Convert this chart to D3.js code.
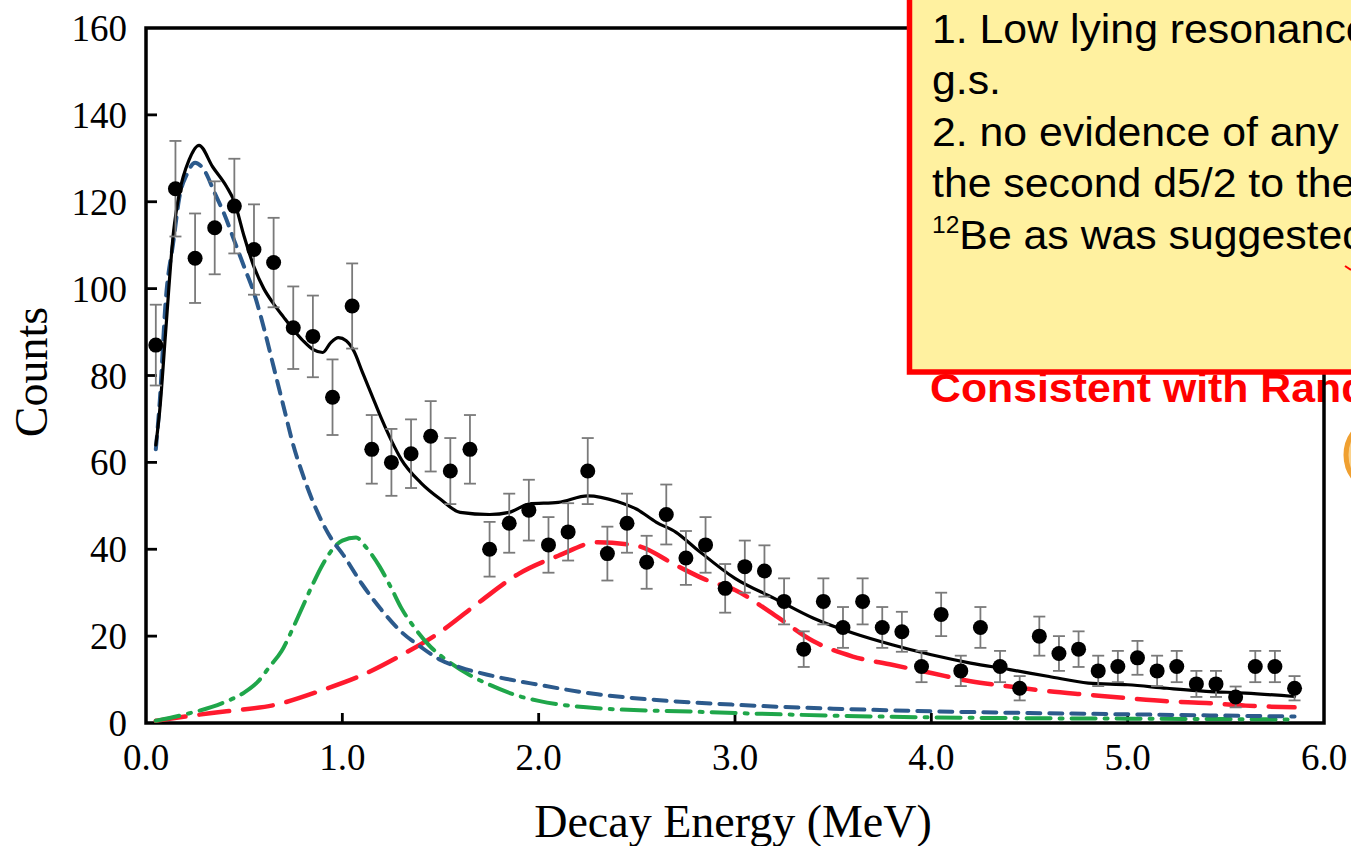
<!DOCTYPE html>
<html>
<head>
<meta charset="utf-8">
<script src="https://cdn.jsdelivr.net/npm/d3@7"></script>
<style>
  body { margin: 0; background: #fff; }
  svg { display: block; }
</style>
</head>
<body>
<div id="container"></div>
<script>
/* CONSTANTS AND GLOBALS */
const width = 1351,
  height = 846,
  margin = { top: 28, bottom: 123, left: 146, right: 27 };

/* DATA */
// bin centres (MeV)
const energy = [0.05, 0.15, 0.25, 0.35, 0.45, 0.55, 0.65, 0.75, 0.85, 0.95,
  1.05, 1.15, 1.25, 1.35, 1.45, 1.55, 1.65, 1.75, 1.85, 1.95,
  2.05, 2.15, 2.25, 2.35, 2.45, 2.55, 2.65, 2.75, 2.85, 2.95,
  3.05, 3.15, 3.25, 3.35, 3.45, 3.55, 3.65, 3.75, 3.85, 3.95,
  4.05, 4.15, 4.25, 4.35, 4.45, 4.55, 4.65, 4.75, 4.85, 4.95,
  5.05, 5.15, 5.25, 5.35, 5.45, 5.55, 5.65, 5.75, 5.85];

const counts = [87, 123, 107, 114, 119, 109, 106, 91, 89, 75,
  96, 63, 60, 62, 66, 58, 63, 40, 46, 49,
  41, 44, 58, 39, 46, 37, 48, 38, 41, 31,
  36, 35, 28, 17, 28, 22, 28, 22, 21, 13,
  25, 12, 22, 13, 8, 20, 16, 17, 12, 13,
  15, 12, 13, 9, 9, 6, 13, 13, 8];

const errors = [9.3, 11, 10.3, 10.7, 10.9, 10.4, 10.3, 9.5, 9.4, 8.7,
  9.8, 7.9, 7.7, 7.9, 8.1, 7.6, 7.9, 6.3, 6.8, 7,
  6.4, 6.6, 7.6, 6.2, 6.8, 6.1, 6.9, 6.2, 6.4, 5.6,
  6, 5.9, 5.3, 4.1, 5.3, 4.7, 5.3, 4.7, 4.6, 3.6,
  5, 3.5, 4.7, 3.6, 2.8, 4.5, 4, 4.1, 3.5, 3.6,
  3.9, 3.5, 3.6, 3, 3, 2.4, 3.6, 3.6, 2.8];

// fit curves [E, counts]
const totalFit = [[0.05, 64], [0.07, 72], [0.1, 90], [0.14, 113], [0.17, 122], [0.22, 129.7], [0.27, 133],
  [0.34, 128], [0.41, 123.5], [0.45, 120], [0.5, 112], [0.55, 105], [0.6, 100], [0.65, 96.5], [0.7, 93.5],
  [0.75, 90.6], [0.8, 88], [0.85, 86], [0.9, 85.3], [0.94, 87.5], [0.98, 88.7], [1.02, 88], [1.06, 85.5],
  [1.1, 81], [1.15, 75.5], [1.2, 70], [1.25, 65], [1.3, 60.7], [1.4, 55.3], [1.5, 51.5], [1.6, 48.5],
  [1.75, 48], [1.85, 48.5], [1.95, 50.4], [2.1, 50.8], [2.25, 52.3], [2.4, 51], [2.5, 49.2], [2.6, 46.2],
  [2.7, 43.9], [2.8, 40.2], [3.0, 33.3], [3.2, 28.7], [3.4, 24.1], [3.6, 20.7], [3.8, 18], [4.0, 15.7],
  [4.2, 13.8], [4.4, 12.3], [4.6, 10.7], [4.8, 9.2], [5.0, 8.8], [5.2, 8], [5.4, 7.3], [5.6, 6.9], [5.85, 6.1]];

const gsFit = [[0.05, 63], [0.07, 74], [0.1, 97], [0.14, 111], [0.17, 121], [0.21, 126.5], [0.25, 129],
  [0.3, 127], [0.35, 122], [0.4, 117], [0.45, 111], [0.5, 105], [0.55, 99], [0.6, 91], [0.65, 82],
  [0.7, 73], [0.75, 64], [0.8, 57], [0.85, 51], [0.9, 46], [0.95, 42], [1.0, 39], [1.1, 32], [1.2, 26],
  [1.3, 21], [1.4, 17.5], [1.5, 14.5], [1.6, 12.8], [1.75, 11], [2.0, 8.8], [2.3, 6.6], [2.6, 5.3],
  [3.0, 4.2], [3.5, 3.3], [4.0, 2.7], [4.5, 2.3], [5.0, 2], [5.5, 1.7], [5.85, 1.5]];

const firstExcFit = [[0.05, 0.5], [0.2, 2], [0.4, 4.8], [0.5, 7], [0.57, 9.5], [0.63, 13], [0.69, 16.5],
  [0.75, 22], [0.8, 27], [0.85, 32], [0.9, 36.5], [0.95, 40], [1.0, 42], [1.07, 42.7], [1.12, 40.5],
  [1.19, 36], [1.25, 31], [1.3, 26.5], [1.37, 21.8], [1.45, 17.5], [1.53, 14.5], [1.65, 11], [1.75, 8.8],
  [1.9, 6.2], [2.0, 5.1], [2.3, 3.4], [2.8, 2.6], [3.0, 2.3], [3.5, 1.7], [4.0, 1.3], [4.5, 1.1],
  [5.0, 1], [5.5, 0.9], [5.85, 0.8]];

const secondExcFit = [[0.05, 0.5], [0.2, 1.5], [0.41, 2.7], [0.66, 4.2], [0.9, 7.6], [1.1, 11], [1.3, 15.6],
  [1.5, 21], [1.7, 27.9], [1.9, 34.4], [2.1, 38.5], [2.3, 41.6], [2.5, 40.8], [2.7, 36.3], [2.85, 33],
  [3.0, 30.6], [3.2, 24.9], [3.4, 18.8], [3.6, 15.3], [3.8, 13.4], [4.0, 11.5], [4.2, 9.6], [4.4, 8.4],
  [4.6, 7.3], [4.8, 6.5], [5.0, 5.7], [5.2, 5], [5.4, 4.6], [5.6, 4], [5.85, 3.6]];

const xTicks = [0, 1, 2, 3, 4, 5, 6];
const yTicks = [0, 20, 40, 60, 80, 100, 120, 140, 160];

const noteLines = ["1. Low lying resonance", "g.s.", "2. no evidence of any l", "the second d5/2 to the"];
const noteLast = "Be as was suggested";
const noteRed = "Consistent with Random";

/* SCALES */
const xScale = d3.scaleLinear()
  .domain([0, 6])
  .range([margin.left, width - margin.right]);

const yScale = d3.scaleLinear()
  .domain([0, 160])
  .range([height - margin.bottom, margin.top]);

const svg = d3.select("#container")
  .append("svg")
  .attr("width", width)
  .attr("height", height);

// red note text sits under the chart frame
svg.append("text")
  .attr("transform", "translate(930,402) scale(1.07,1)")
  .attr("font-family", "Liberation Sans, Arial, sans-serif")
  .attr("font-weight", "bold")
  .attr("font-size", 40)
  .attr("fill", "#ff0000")
  .text(noteRed);

/* AXES */
const serif = "Liberation Serif, Times New Roman, serif";

// ticks drawn inward
svg.append("g")
  .selectAll("line")
  .data(yTicks.slice(1, -1))
  .join("line")
  .attr("x1", margin.left)
  .attr("x2", margin.left + 11)
  .attr("y1", d => yScale(d))
  .attr("y2", d => yScale(d))
  .attr("stroke", "#000")
  .attr("stroke-width", 2.8);

svg.append("g")
  .selectAll("line")
  .data(xTicks.slice(1, -1))
  .join("line")
  .attr("x1", d => xScale(d))
  .attr("x2", d => xScale(d))
  .attr("y1", yScale(0))
  .attr("y2", yScale(0) - 10)
  .attr("stroke", "#000")
  .attr("stroke-width", 2.8);

svg.append("rect")
  .attr("x", xScale(0))
  .attr("y", yScale(160))
  .attr("width", xScale(6) - xScale(0))
  .attr("height", yScale(0) - yScale(160))
  .attr("fill", "none")
  .attr("stroke", "#000")
  .attr("stroke-width", 3.5);

svg.append("g")
  .selectAll("text")
  .data(yTicks)
  .join("text")
  .attr("x", 127)
  .attr("y", d => yScale(d) + 13)
  .attr("text-anchor", "end")
  .attr("font-family", serif)
  .attr("font-size", 37)
  .text(d => d);

svg.append("g")
  .selectAll("text")
  .data(xTicks)
  .join("text")
  .attr("x", d => xScale(d))
  .attr("y", 770)
  .attr("text-anchor", "middle")
  .attr("font-family", serif)
  .attr("font-size", 37)
  .text(d => d.toFixed(1));

svg.append("text")
  .attr("x", 733)
  .attr("y", 837)
  .attr("text-anchor", "middle")
  .attr("font-family", serif)
  .attr("font-size", 46)
  .text("Decay Energy (MeV)");

svg.append("text")
  .attr("transform", "translate(47,372) rotate(-90)")
  .attr("text-anchor", "middle")
  .attr("font-family", serif)
  .attr("font-size", 46)
  .text("Counts");

/* CURVES */
const line = d3.line()
  .x(d => xScale(d[0]))
  .y(d => yScale(d[1]))
  .curve(d3.curveMonotoneX);

const curves = [
  { data: secondExcFit, color: "#ff1a2e", dash: "30,14", w: 4.5 },
  { data: firstExcFit, color: "#1fa64a", dash: "24,9,3,9", w: 4 },
  { data: gsFit, color: "#2c5a8c", dash: "13,9", w: 4 },
  { data: totalFit, color: "#000", dash: null, w: 3.2 }
];

svg.append("g")
  .selectAll("path")
  .data(curves)
  .join("path")
  .attr("d", d => line(d.data))
  .attr("fill", "none")
  .attr("stroke", d => d.color)
  .attr("stroke-width", d => d.w)
  .attr("stroke-dasharray", d => d.dash)
  .attr("stroke-linecap", "round");

/* DATA POINTS */
const points = energy.map((e, i) => ({ e: e, c: counts[i], err: errors[i] }));

const errG = svg.append("g")
  .attr("stroke", "#7a7a7a")
  .attr("stroke-width", 1.8);

errG.selectAll("line.bar")
  .data(points)
  .join("line")
  .attr("class", "bar")
  .attr("x1", d => xScale(d.e))
  .attr("x2", d => xScale(d.e))
  .attr("y1", d => yScale(d.c - d.err))
  .attr("y2", d => yScale(d.c + d.err));

errG.selectAll("line.top")
  .data(points)
  .join("line")
  .attr("class", "top")
  .attr("x1", d => xScale(d.e) - 6)
  .attr("x2", d => xScale(d.e) + 6)
  .attr("y1", d => yScale(d.c + d.err))
  .attr("y2", d => yScale(d.c + d.err));

errG.selectAll("line.bot")
  .data(points)
  .join("line")
  .attr("class", "bot")
  .attr("x1", d => xScale(d.e) - 6)
  .attr("x2", d => xScale(d.e) + 6)
  .attr("y1", d => yScale(d.c - d.err))
  .attr("y2", d => yScale(d.c - d.err));

svg.append("g")
  .selectAll("circle")
  .data(points)
  .join("circle")
  .attr("cx", d => xScale(d.e))
  .attr("cy", d => yScale(d.c))
  .attr("r", 7.5)
  .attr("fill", "#000");

/* NOTE BOX */
svg.append("rect")
  .attr("x", 909.5)
  .attr("y", -10)
  .attr("width", 500)
  .attr("height", 382)
  .attr("fill", "#fff1a0")
  .attr("stroke", "#ff0000")
  .attr("stroke-width", 5.5);

const note = svg.append("g")
  .attr("transform", "translate(932,0) scale(1.07,1)")
  .attr("font-family", "Liberation Sans, Arial, sans-serif")
  .attr("font-size", 40)
  .attr("fill", "#000");

note.selectAll("text")
  .data(noteLines)
  .join("text")
  .attr("x", 0)
  .attr("y", (d, i) => 43 + i * 51.5)
  .text(d => d);

const last = note.append("text")
  .attr("x", 0)
  .attr("y", 249);
last.append("tspan")
  .attr("font-size", 23)
  .attr("dy", -16)
  .text("12");
last.append("tspan")
  .attr("dy", 16)
  .text(noteLast);

// little red arrow start peeking in at the edge
svg.append("path")
  .attr("d", "M1345,266 L1351,270")
  .attr("stroke", "#ff0000")
  .attr("stroke-width", 2);

// orange badge cut off by the right edge
svg.append("circle")
  .attr("cx", 1384)
  .attr("cy", 455)
  .attr("r", 38)
  .attr("fill", "#fbd28a")
  .attr("stroke", "#f0a030")
  .attr("stroke-width", 5);
</script>
</body>
</html>
